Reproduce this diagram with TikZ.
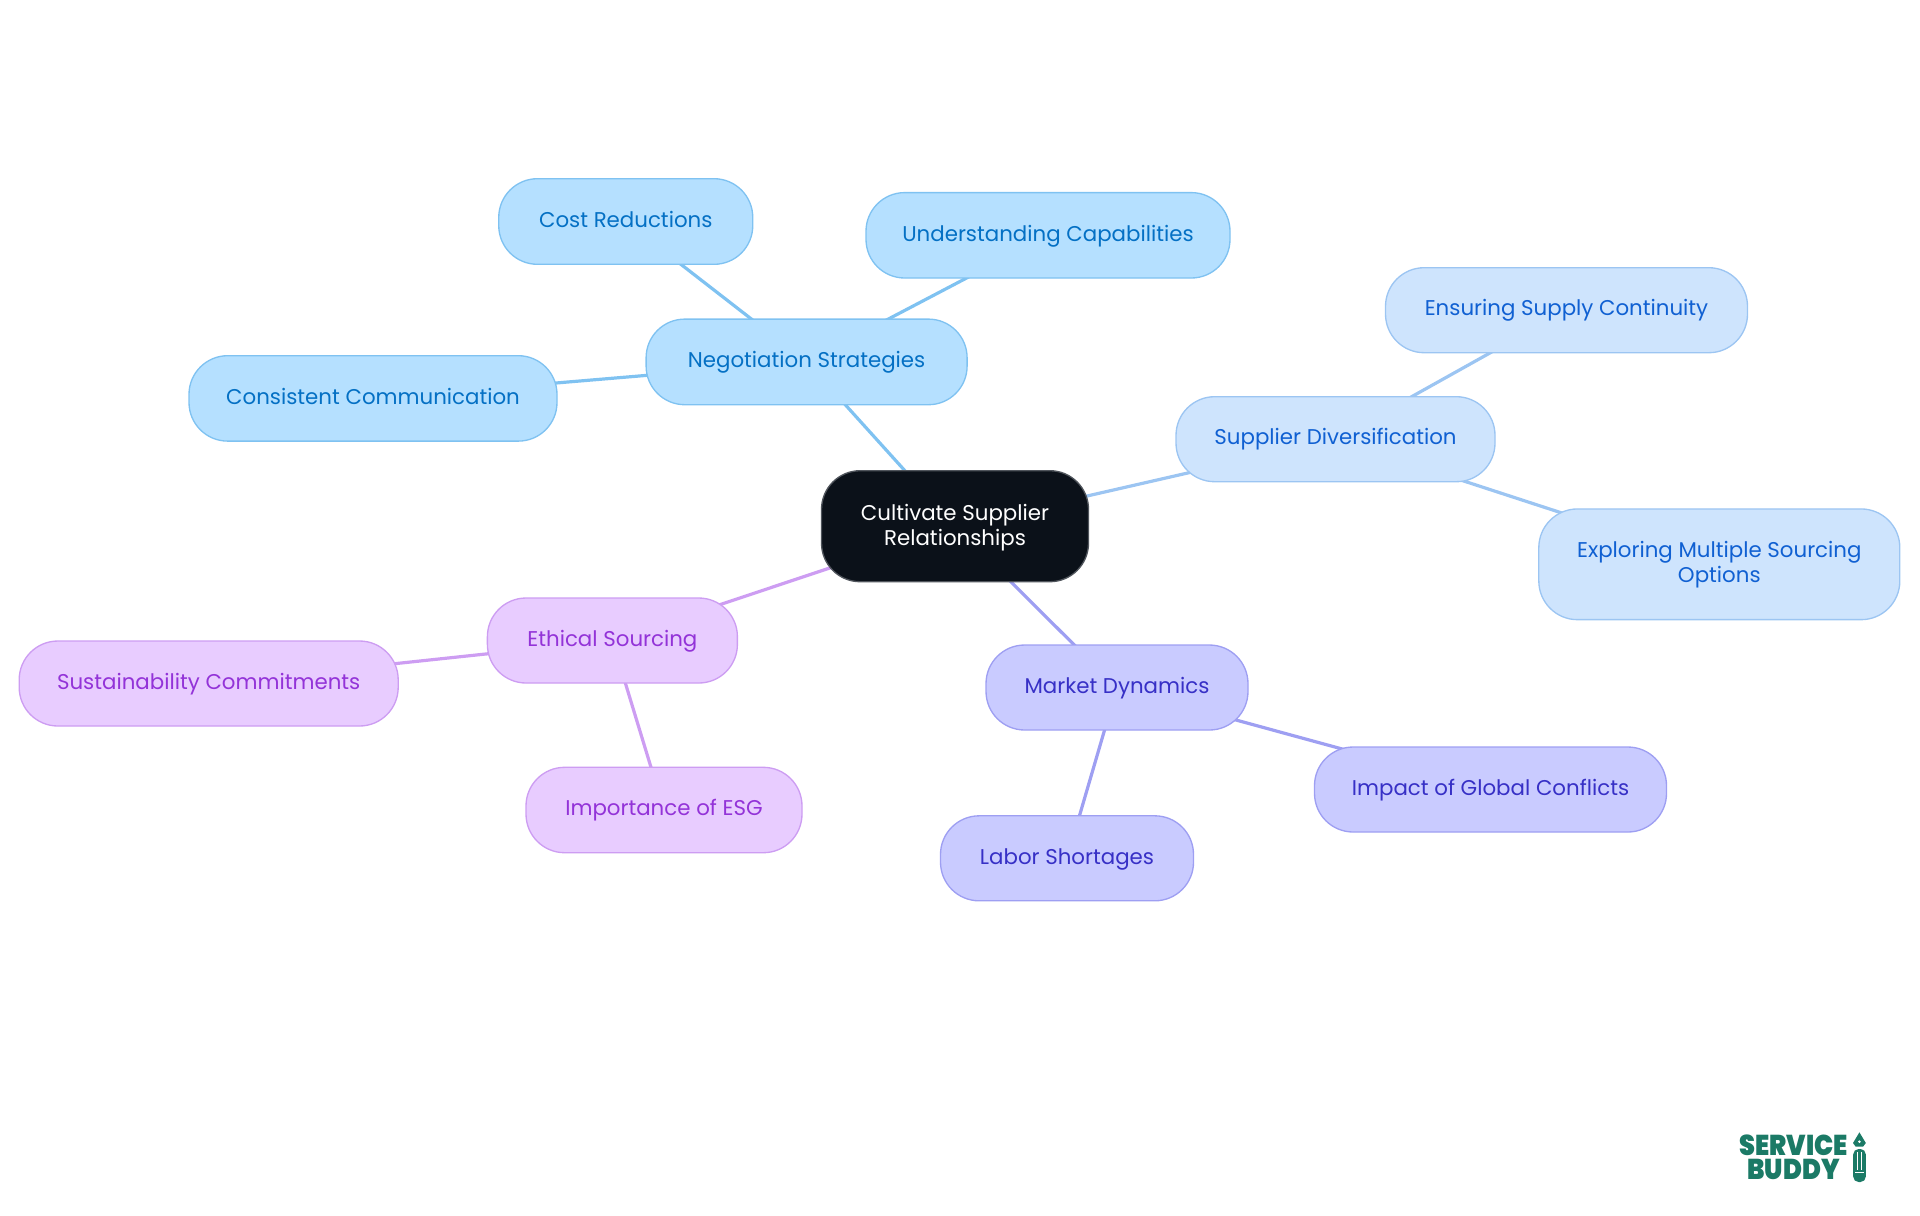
\documentclass[tikz,border=0pt]{standalone}
\usepackage{fontspec}
\setmainfont{Poppins}
\newfontfamily\logofont{Poppins Black}
\usetikzlibrary{backgrounds}
\definecolor{skyF}{HTML}{B5E0FF}\definecolor{skyS}{HTML}{7FC2F1}\definecolor{skyT}{HTML}{0470C4}
\definecolor{bluF}{HTML}{CEE4FD}\definecolor{bluS}{HTML}{9CC5F2}\definecolor{bluT}{HTML}{1060D2}
\definecolor{indF}{HTML}{C9CBFF}\definecolor{indS}{HTML}{9E9FF2}\definecolor{indT}{HTML}{3730C6}
\definecolor{purF}{HTML}{E8CCFF}\definecolor{purS}{HTML}{CD9DF2}\definecolor{purT}{HTML}{9333D8}
\definecolor{rootF}{HTML}{0B1119}\definecolor{rootS}{HTML}{50555C}\definecolor{logoC}{HTML}{1B7A66}
\newcommand\mystruta{\rule{0pt}{14pt}}
\newcommand\mystrutb{\rule[-5.4pt]{0pt}{5.4pt}}
\tikzset{
  x=0.75pt,y=-0.75pt,
  box/.style 2 args={rectangle,rounded corners=29pt,inner sep=0pt,align=center,line width=1pt,
    minimum width=#1*0.75pt,minimum height=#2*0.75pt,
    font=\fontsize{16}{19.1}\selectfont,
    execute at begin node=\mystruta,execute at end node=\mystrutb},
  sky/.style={fill=skyF,draw=skyS,text=skyT},
  blu/.style={fill=bluF,draw=bluS,text=bluT},
  ind/.style={fill=indF,draw=indS,text=indT},
  pur/.style={fill=purF,draw=purS,text=purT},
  rootbox/.style={fill=rootF,draw=rootS,text=white},
  lnk/.style={line width=2.4pt},
  logotext/.style={inner sep=0pt,text=logoC,font=\fontsize{21.5}{22}\selectfont\logofont},
}
\begin{document}
\begin{tikzpicture}
\useasboundingbox (0,0) rectangle (1920,1215);
\node[box={267}{111},rootbox] (root) at (955,526.2) {\rule{0pt}{15.5pt}Cultivate Supplier\\Relationships};
\node[box={321}{85.6},sky] (neg) at (806.6,361.9) {Negotiation Strategies};
\node[box={254}{85.6},sky] (cost) at (625.75,221.5) {Cost Reductions};
\node[box={368}{85.4},sky] (cons) at (373,398.4) {Consistent Communication};
\node[box={364}{85.4},sky] (under) at (1048,235.3) {Understanding Capabilities};
\node[box={319}{85},blu] (supp) at (1335.5,439.2) {Supplier Diversification};
\node[box={362}{85},blu] (ens) at (1566.5,310.2) {Ensuring Supply Continuity};
\node[box={361}{110.7},blu] (expl) at (1719.3,564.3) {\rule{0pt}{14pt}Exploring Multiple Sourcing\\Options};
\node[box={262}{85},ind] (mark) at (1117,687.5) {Market Dynamics};
\node[box={352}{85},ind] (imp) at (1490.5,789.5) {Impact of Global Conflicts};
\node[box={253}{85},ind] (lab) at (1067,858.3) {Labor Shortages};
\node[box={250}{85},pur] (eth) at (612.4,640.5) {Ethical Sourcing};
\node[box={379}{85},pur] (sus) at (208.7,683.5) {Sustainability Commitments};
\node[box={276}{85.4},pur] (esg) at (664,810) {Importance of ESG};
\begin{scope}[on background layer]
\draw[lnk,skyS] (root.center) -- (neg.center);
\draw[lnk,skyS] (neg.center) -- (cost.center);
\draw[lnk,skyS] (neg.center) -- (cons.center);
\draw[lnk,skyS] (neg.center) -- (under.center);
\draw[lnk,bluS] (root.center) -- (supp.center);
\draw[lnk,bluS] (supp.center) -- (ens.center);
\draw[lnk,bluS] (supp.center) -- (expl.center);
\draw[lnk,indS] (root.center) -- (mark.center);
\draw[lnk,indS] (mark.center) -- (imp.center);
\draw[lnk,indS] (mark.center) -- (lab.center);
\draw[lnk,purS] (root.center) -- (eth.center);
\draw[lnk,purS] (eth.center) -- (sus.center);
\draw[lnk,purS] (eth.center) -- (esg.center);
\end{scope}
% logo
\node[logotext] (logoa) at (1793.5,1145) {\scalebox{0.89}[1]{SERVICE}};
\node[logotext] (logob) at (1793.5,1169.5) {\scalebox{0.89}[1]{BUDDY}};
\fill[logoC] (1859.4,1132.3) -- (1865.8,1143) -- (1863,1146.7) -- (1855.7,1146.7) -- (1853,1143) -- cycle;
\fill[white] (1859.4,1141.7) circle (1.4);
\fill[logoC,rounded corners=4pt] (1853.2,1149) rectangle (1865.8,1182);
\fill[white] (1856.7,1151.7) rectangle (1858,1170);
\fill[white] (1861,1151.7) rectangle (1862.3,1170);
\fill[white] (1855,1171.7) rectangle (1864,1173.3);
\end{tikzpicture}
\end{document}
